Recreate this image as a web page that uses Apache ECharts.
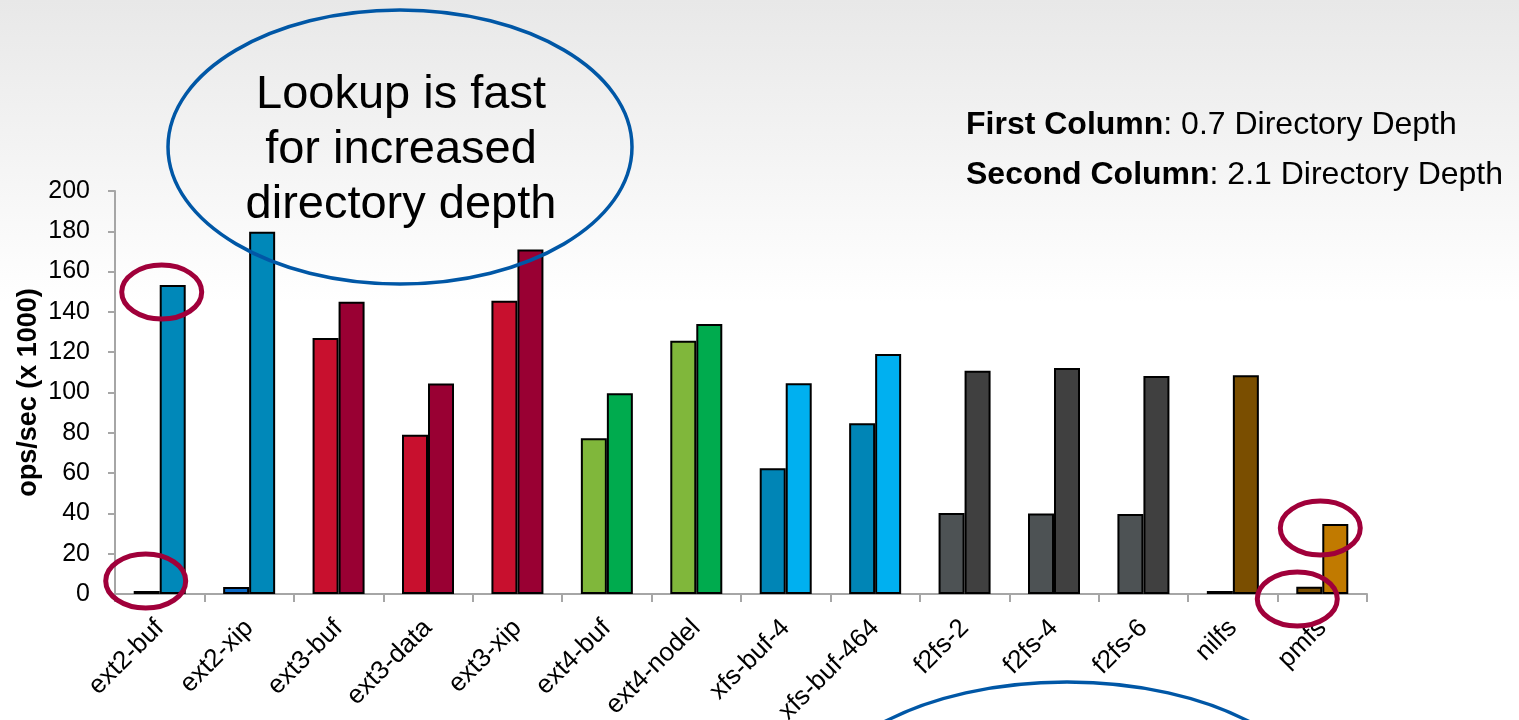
<!DOCTYPE html>
<html>
<head>
<meta charset="utf-8">
<script src="https://cdn.jsdelivr.net/npm/echarts@6/dist/echarts.min.js"></script>
<style>
  html, body { margin: 0; padding: 0; background: #fff; }
  #main { width: 1519px; height: 720px; }
</style>
</head>
<body>
<div id="main"></div>
<script>
// file systems on the x axis
const categories = ['ext2-buf', 'ext2-xip', 'ext3-buf', 'ext3-data', 'ext3-xip', 'ext4-buf', 'ext4-nodel',
  'xfs-buf-4', 'xfs-buf-464', 'f2fs-2', 'f2fs-4', 'f2fs-6', 'nilfs', 'pmfs'];
// ops/sec (x 1000)
const depth07 = [1.5, 3.5, 127, 79, 145.5, 77.3, 125.7, 62.4, 84.7, 40.2, 40, 39.7, 1.5, 3.6];   // first column
const depth21 = [153.3, 179.8, 145, 104.5, 171, 99.6, 134, 104.6, 119.1, 110.8, 112.2, 108.2, 108.5, 34.7]; // second column
const yTicks = { min: 0, max: 200, interval: 20 };

// per-bar colours
const colors07 = ['#1A4F8F', '#0A68C4', '#C8102E', '#C8102E', '#C8102E', '#80B73B', '#80B73B',
  '#0085B6', '#0085B6', '#4D5254', '#4D5254', '#4D5254', '#8A1A5A', '#7A4E00'];
const colors21 = ['#0088B9', '#0088B9', '#990033', '#990033', '#990033', '#00AB4E', '#00AB4E',
  '#00B0F0', '#00B0F0', '#404040', '#404040', '#404040', '#7A4E00', '#C17A00'];

// red rings, anchored on a category and a value
const rings = [
  { cat: 0, val: depth21[0], dx: 2, dy: 7 },
  { cat: 0, val: 0, dx: -14, dy: -13 },
  { cat: 13, val: depth21[13], dx: -2, dy: 4 },
  { cat: 13, val: 0, dx: -25, dy: 5 }
];

const FONT = "'Liberation Sans', Arial, sans-serif";

const chart = echarts.init(document.getElementById('main'));

function barData(vals, cols) {
  return vals.map((v, i) => ({ value: v, itemStyle: { color: cols[i] } }));
}

const barStyle = { borderColor: '#000', borderWidth: 2 };

chart.setOption({
  animation: false,
  grid: { left: 115, right: 152, top: 191, bottom: 126, containLabel: false, outerBoundsMode: 'none' },
  xAxis: {
    type: 'category',
    data: categories,
    axisLine: { lineStyle: { color: '#A6A6A6', width: 2 } },
    axisTick: { show: true, length: 8, lineStyle: { color: '#A6A6A6', width: 2 } },
    axisLabel: { rotate: 45, margin: 30, fontSize: 26, color: '#000', fontFamily: FONT, interval: 0 }
  },
  yAxis: {
    type: 'value',
    min: yTicks.min, max: yTicks.max, interval: yTicks.interval,
    name: 'ops/sec (x 1000)',
    nameLocation: 'middle',
    nameRotate: 90,
    nameGap: 73,
    nameMoveOverlap: false,
    nameTextStyle: { fontSize: 27, fontWeight: 'bold', color: '#000', fontFamily: FONT },
    axisLine: { show: true, lineStyle: { color: '#A6A6A6', width: 2 } },
    axisTick: { show: true, length: 7, lineStyle: { color: '#A6A6A6', width: 2 } },
    axisLabel: { margin: 25, fontSize: 25, color: '#000', fontFamily: FONT },
    splitLine: { show: false }
  },
  series: [
    { name: '0.7 Directory Depth', type: 'bar', barWidth: 26, barGap: '0%',
      itemStyle: barStyle, data: barData(depth07, colors07) },
    { name: '2.1 Directory Depth', type: 'bar', barWidth: 26, barGap: '0%',
      itemStyle: barStyle, data: barData(depth21, colors21) }
  ]
});

// annotations, placed after the axes exist
const graphics = [
  {
    type: 'rect', silent: true, z: -10,
    shape: { x: 0, y: 0, width: 1519, height: 720 },
    style: {
      fill: new echarts.graphic.LinearGradient(0, 0, 0, 1, [
        { offset: 0, color: '#E8E8E8' },
        { offset: 0.42, color: '#FFFFFF' },
        { offset: 1, color: '#FFFFFF' }
      ])
    }
  },
  {
    type: 'ellipse', z: 100,
    shape: { cx: 400, cy: 147, rx: 232, ry: 137 },
    style: { fill: 'none', stroke: '#0057A6', lineWidth: 3.5 }
  },
  {
    type: 'text', z: 101, x: 401, y: 150,
    style: {
      text: 'Lookup is fast\nfor increased\ndirectory depth',
      fontSize: 47, lineHeight: 55, fontFamily: FONT, fill: '#000',
      align: 'center', verticalAlign: 'middle'
    }
  },
  {
    type: 'ellipse', z: 100,
    shape: { cx: 1067, cy: 820, rx: 260, ry: 138 },
    style: { fill: 'none', stroke: '#0057A6', lineWidth: 3.5 }
  },
  {
    type: 'text', z: 101, x: 966, y: 100,
    style: {
      text: '{b|First Column}: 0.7 Directory Depth\n{b|Second Column}: 2.1 Directory Depth',
      fontSize: 32, lineHeight: 50, fontFamily: FONT, fill: '#000',
      align: 'left', verticalAlign: 'top',
      rich: { b: { fontWeight: 'bold', fontSize: 32, lineHeight: 50, fontFamily: FONT } }
    }
  }
];

rings.forEach(r => {
  const p = chart.convertToPixel({ xAxisIndex: 0, yAxisIndex: 0 }, [categories[r.cat], r.val]);
  graphics.push({
    type: 'ellipse', z: 100,
    shape: { cx: p[0] + r.dx, cy: p[1] + r.dy, rx: 40, ry: 27 },
    style: { fill: 'none', stroke: '#A0003A', lineWidth: 5 }
  });
});

chart.setOption({ graphic: graphics });
</script>
</body>
</html>
